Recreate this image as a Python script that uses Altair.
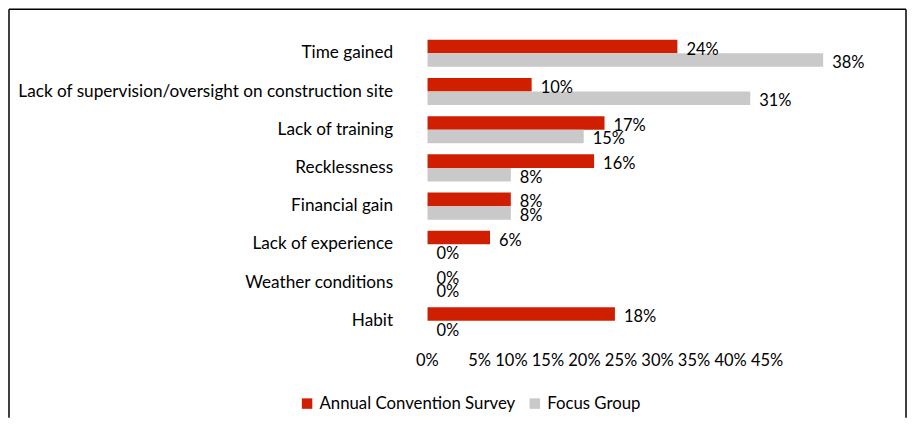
import altair as alt
import pandas as pd

categories = [
    "Time gained",
    "Lack of supervision/oversight on construction site",
    "Lack of training",
    "Recklessness",
    "Financial gain",
    "Lack of experience",
    "Weather conditions",
    "Habit",
]
annual_survey = [24, 10, 17, 16, 8, 6, 0, 18]
focus_group = [38, 31, 15, 8, 8, 0, 0, 0]
series_names = ["Annual Convention Survey", "Focus Group"]
series_colors = ["#D01E00", "#C9C9C9"]
tick_labels = ["0%", "5%", "10%", "15%", "20%", "25%", "30%", "35%", "40%", "45%"]

FONT = "Lato"
FS = 16.5
FS_CAT = 17.2
FS_LEG = 16.8
W, H = 469, 306

rows = []
for i, c in enumerate(categories):
    rows.append({"cat": c, "series": series_names[0], "value": annual_survey[i]})
    rows.append({"cat": c, "series": series_names[1], "value": focus_group[i]})
df = pd.DataFrame(rows)
df["label"] = df["value"].astype(str) + "%"

NB = "\u00a0"
axis_text = tick_labels[0] + NB * 7 + NB.join(tick_labels[1:])

x_enc = alt.X(
    "value:Q",
    scale=alt.Scale(domain=[0, 45], nice=False),
    axis=alt.Axis(
        title=None, values=[0], labelExpr="'" + axis_text + "'",
        labelFlush=True, labelFlushOffset=12, labelPadding=13,
        ticks=False, domain=False, grid=False,
        labelFont=FONT, labelFontSize=FS, labelColor="#000000",
        labelLimit=1000, labelOverlap=False,
    ),
)
y_enc = alt.Y(
    "cat:N", sort=categories,
    scale=alt.Scale(paddingInner=0.29, paddingOuter=0.145),
    axis=alt.Axis(
        title=None, ticks=False, domain=False, labelPadding=35,
        labelFont=FONT, labelFontSize=FS_CAT, labelColor="#000000", labelLimit=600,
    ),
)
yoff = alt.YOffset("series:N", sort=series_names, scale=alt.Scale(domain=series_names))

base = alt.Chart(df)

bars = base.mark_bar().encode(
    x=x_enc,
    y=y_enc,
    yOffset=yoff,
    color=alt.Color(
        "series:N",
        scale=alt.Scale(domain=series_names, range=series_colors),
        legend=alt.Legend(
            title=None, orient="none", direction="horizontal",
            legendX=-129, legendY=361,
            symbolType="square", symbolSize=110, symbolStrokeWidth=0,
            labelFont=FONT, labelFontSize=FS_LEG, labelColor="#000000",
            columnPadding=11, labelOffset=4, labelLimit=400,
        ),
    ),
)

labels = base.mark_text(
    align="left", baseline="middle", dx=9, dy=3,
    font=FONT, fontSize=FS, color="#000000",
).encode(
    x="value:Q",
    y=alt.Y("cat:N", sort=categories),
    yOffset=yoff,
    text="label:N",
)

frame_df = pd.DataFrame({"k": [0]})
frame_left = alt.Chart(frame_df).mark_rule(color="#000000", strokeWidth=1.5).encode(
    x=alt.value(-419), y=alt.value(-25), y2=alt.value(384)
)
frame_top = alt.Chart(frame_df).mark_rule(color="#000000", strokeWidth=1.5).encode(
    x=alt.value(-419), x2=alt.value(479), y=alt.value(-25)
)
frame_right = alt.Chart(frame_df).mark_rule(color="#000000", strokeWidth=1.5).encode(
    x=alt.value(479), y=alt.value(-25), y2=alt.value(384)
)

chart = (
    alt.layer(bars, labels, frame_left, frame_top, frame_right)
    .properties(width=W, height=H, padding=0, background="#FFFFFF")
    .configure_view(stroke=None)
)

chart.save("out.html", embed_options={"renderer": "svg", "actions": False})
